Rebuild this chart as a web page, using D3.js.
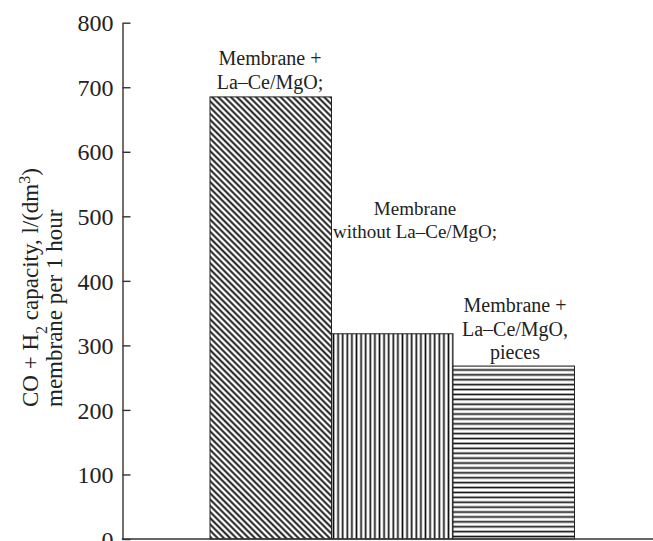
<!DOCTYPE html>
<html>
<head>
<meta charset="utf-8">
<script src="https://cdn.jsdelivr.net/npm/d3@7/dist/d3.min.js"></script>
<style>
  html, body { margin: 0; padding: 0; background: #fff; }
  svg { display: block; }
  text { font-family: "Liberation Serif", "DejaVu Serif", serif; fill: #222; }
</style>
</head>
<body>
<svg id="chart" width="653" height="541"></svg>
<script>
// ---- data ----
const categories = ["withCatalyst", "withoutCatalyst", "pieces"];
const values = [685, 318, 268];
const barLabels = [
  ["Membrane +", "La\u2013Ce/MgO;"],
  ["Membrane", "without La\u2013Ce/MgO;"],
  ["Membrane +", "La\u2013Ce/MgO,", "pieces"]
];
const tickValues = [0, 100, 200, 300, 400, 500, 600, 700, 800];
const hatches = ["diag", "vert", "horiz"];

// ---- layout ----
const svg = d3.select("#chart");
const axisX = 122.5, y0 = 539, yTop = 22.7;
const x = d3.scaleBand().domain(categories).range([210, 574.5]).padding(0);
const y = d3.scaleLinear().domain([0, 800]).range([y0, yTop]);

// patterns
const defs = svg.append("defs");
function pattern(id, size, transform, lineFn, sw) {
  const p = defs.append("pattern").attr("id", id)
    .attr("patternUnits", "userSpaceOnUse")
    .attr("width", size).attr("height", size);
  if (transform) p.attr("patternTransform", transform);
  p.append("rect").attr("width", size).attr("height", size).attr("fill", "#fff");
  p.append("path").attr("d", lineFn(size)).attr("stroke", "#111").attr("stroke-width", sw);
}
pattern("diag", 4.4, "rotate(-45)", s => `M${s/2},-1 V${s+1}`, 1.9);
pattern("vert", 4.6, null, s => `M${s/2},-1 V${s+1}`, 1.7);
pattern("horiz", 4.9, null, s => `M-1,${s/2} H${s+1}`, 1.7);

// bars
svg.append("g").selectAll("rect").data(categories).join("rect")
  .attr("x", d => x(d))
  .attr("y", (d, i) => y(values[i]))
  .attr("width", x.bandwidth())
  .attr("height", (d, i) => y0 - y(values[i]))
  .attr("fill", (d, i) => `url(#${hatches[i]})`)
  .attr("stroke", "#222")
  .attr("stroke-width", 1);

// y axis
const yAxis = d3.axisLeft(y).tickValues(tickValues).tickSizeInner(-8).tickSizeOuter(0).tickPadding(9);
const gy = svg.append("g").attr("transform", `translate(${axisX},0)`).call(yAxis);
gy.select(".domain").attr("stroke", "#333").attr("stroke-width", 1.4);
gy.selectAll(".tick line").attr("stroke", "#333").attr("stroke-width", 1.4);
gy.selectAll(".tick text").style("font-family", '"Liberation Serif", serif')
  .style("font-size", "24px").attr("fill", "#222").attr("dy", "0.34em");

// x axis baseline
svg.append("line").attr("x1", axisX - 0.7).attr("x2", 653).attr("y1", y0).attr("y2", y0)
  .attr("stroke", "#333").attr("stroke-width", 1.4);

// bar labels
const labelPos = [
  { cx: 270, y: 58, lh: 24, fs: 20 },
  { cx: 415, y: 208, lh: 23.5, fs: 19 },
  { cx: 515, y: 305, lh: 23.5, fs: 20 }
];
barLabels.forEach((lines, i) => {
  const t = svg.append("text").attr("text-anchor", "middle").style("font-size", labelPos[i].fs + "px");
  lines.forEach((ln, j) => {
    t.append("tspan").attr("x", labelPos[i].cx).attr("y", labelPos[i].y + j * labelPos[i].lh)
      .attr("dy", "0.35em").text(ln);
  });
});

// y title
const t1 = svg.append("text").attr("transform", "translate(38,407) rotate(-90)")
  .attr("text-anchor", "start").style("font-size", "23px");
t1.append("tspan").text("CO + H");
t1.append("tspan").attr("baseline-shift", "sub").style("font-size", "16px").text("2");
t1.append("tspan").text(" capacity, l/(dm");
t1.append("tspan").attr("baseline-shift", "super").style("font-size", "16px").text("3");
t1.append("tspan").text(")");
svg.append("text").attr("transform", "translate(62,407) rotate(-90)")
  .attr("text-anchor", "start").style("font-size", "23px").text("membrane per 1 hour");
</script>
</body>
</html>
